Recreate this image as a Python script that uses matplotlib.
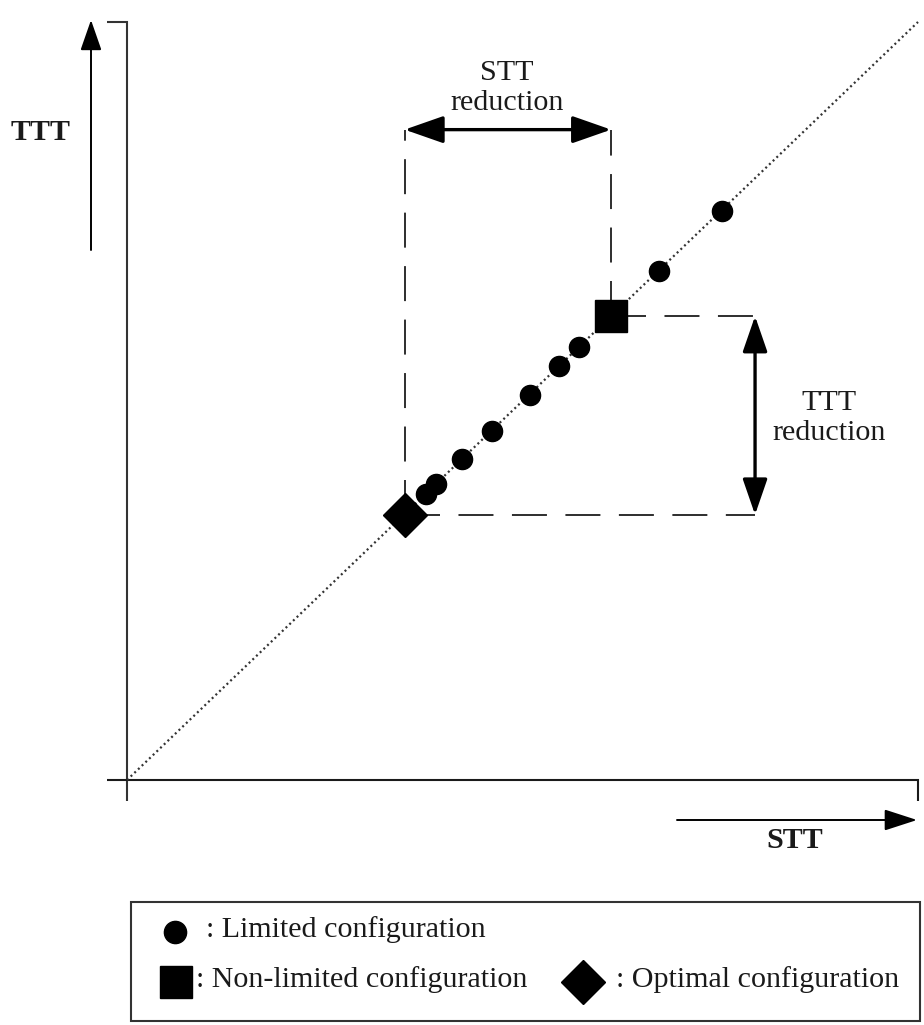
import matplotlib
matplotlib.use("Agg")
import matplotlib.pyplot as plt
from matplotlib.patches import Rectangle

# ---------------- data ----------------
limited_stt = [37.8, 39.1, 42.4, 46.2, 50.9, 54.6, 57.1, 67.3, 75.2]
limited_ttt = [37.7, 39.1, 42.3, 46.1, 50.8, 54.6, 57.1, 67.2, 75.1]
nonlimited_stt = [61.2]
nonlimited_ttt = [61.2]
optimal_stt = [35.1]
optimal_ttt = [35.0]
diag_stt = [0, 100]
diag_ttt = [0, 100]
axis_max = 100
stt_arrow_level = 85.8     # TTT level of the "STT reduction" arrow
ttt_arrow_level = 79.4     # STT position of the "TTT reduction" arrow

axis_label_x = "STT"
axis_label_y = "TTT"
stt_red_label = "STT\nreduction"
ttt_red_label = "TTT\nreduction"
legend_labels = [": Limited configuration",
                 ": Non-limited configuration",
                 ": Optimal configuration"]

# ---------------- layout ----------------
W, H = 924, 1025
PX_X0, PX_Y0 = 127, 780          # pixel position of origin
SX, SY = 7.91, 7.58              # pixels per unit


def px(x, y):
    """pixel position -> data coordinates (layout helper)"""
    return (x - PX_X0) / SX, (PX_Y0 - y) / SY


plt.rcParams['font.family'] = ['Liberation Serif', 'DejaVu Serif']
fig = plt.figure(figsize=(W / 100, H / 100), dpi=100)
ax = fig.add_axes([0, 0, 1, 1])
ax.set_xlim(px(0, 0)[0], px(W, 0)[0])
ax.set_ylim(px(0, H)[1], px(0, 0)[1])
ax.axis('off')

FS = 21.6
axc = '#333333'
txtc = '#1a1a1a'

# axes frame lines
x_lo, _ = px(107, 0)
_, y_lo = px(0, 801)
ax.plot([x_lo, 0, 0], [axis_max, axis_max, y_lo], color=axc, lw=1.5,
        solid_capstyle='butt', solid_joinstyle='miter')
ax.plot([x_lo, axis_max, axis_max], [0, 0, y_lo], color='#1a1a1a', lw=1.5,
        solid_capstyle='butt', solid_joinstyle='miter')

# axis direction arrows
ya_x, ya_y0 = px(91, 250)
_, ya_y1 = px(0, 20)
ax.annotate('', xy=(ya_x, ya_y1), xytext=(ya_x, ya_y0),
            arrowprops=dict(arrowstyle='-|>,head_length=1.35,head_width=0.47',
                            mutation_scale=14, color='black', lw=1.4,
                            shrinkA=0, shrinkB=0))
xa_x0, xa_y = px(677, 820)
xa_x1, _ = px(917, 0)
ax.annotate('', xy=(xa_x1, xa_y), xytext=(xa_x0, xa_y),
            arrowprops=dict(arrowstyle='-|>,head_length=1.45,head_width=0.47',
                            mutation_scale=14, color='black', lw=1.4,
                            shrinkA=0, shrinkB=0))
ax.text(*px(41, 133), axis_label_y, fontsize=FS, fontweight='bold',
        ha='center', va='center', color=txtc)
ax.text(*px(795, 840), axis_label_x, fontsize=FS, fontweight='bold',
        ha='center', va='center', color=txtc)

# diagonal dotted line
ax.plot(diag_stt, diag_ttt, color='#333', lw=1.6, ls=(0, (0.9, 1.4)), zorder=2)

# dashed guide lines
dc = '#2e2e2e'
dls = (0, (18, 9.5))
dlw = 1.4
ax.plot([optimal_stt[0], optimal_stt[0]], [optimal_ttt[0], stt_arrow_level],
        color=dc, lw=dlw, ls=dls, zorder=1)
ax.plot([nonlimited_stt[0], nonlimited_stt[0]], [nonlimited_ttt[0], stt_arrow_level],
        color=dc, lw=dlw, ls=dls, zorder=1)
ax.plot([nonlimited_stt[0], ttt_arrow_level], [nonlimited_ttt[0], nonlimited_ttt[0]],
        color=dc, lw=dlw, ls=dls, zorder=1)
ax.plot([optimal_stt[0], ttt_arrow_level], [optimal_ttt[0], optimal_ttt[0]],
        color=dc, lw=dlw, ls=dls, zorder=1)

# reduction arrows
ax.annotate('', xy=(nonlimited_stt[0], stt_arrow_level),
            xytext=(optimal_stt[0], stt_arrow_level),
            arrowprops=dict(arrowstyle='<|-|>,head_length=1.2,head_width=0.42',
                            mutation_scale=20, color='black', lw=2.4,
                            shrinkA=0, shrinkB=0))
ax.annotate('', xy=(ttt_arrow_level, optimal_ttt[0]),
            xytext=(ttt_arrow_level, nonlimited_ttt[0]),
            arrowprops=dict(arrowstyle='<|-|>,head_length=1.1,head_width=0.38',
                            mutation_scale=20, color='black', lw=2.4,
                            shrinkA=0, shrinkB=0))
ax.text(*px(507, 88), stt_red_label, fontsize=FS, ha='center', va='center',
        linespacing=1.25, color=txtc)
ax.text(*px(829, 418), ttt_red_label, fontsize=FS, ha='center', va='center',
        linespacing=1.25, color=txtc)

# markers
ax.plot(limited_stt, limited_ttt, 'o', color='black', ms=14.5, zorder=4)
ax.plot(nonlimited_stt, nonlimited_ttt, 's', color='black', ms=23, zorder=4)
ax.plot(optimal_stt, optimal_ttt, 'D', color='black', ms=22, zorder=4)

# legend box (drawn manually)
lx0, ly0 = px(131, 1021)
lx1, ly1 = px(920, 902)
ax.add_patch(Rectangle((lx0, ly0), lx1 - lx0, ly1 - ly0, fill=False,
                       edgecolor='#333', lw=1.5))
ax.plot(*px(175, 932), 'o', color='black', ms=16)
ax.plot(*px(176, 982), 's', color='black', ms=22.5)
ax.plot(*px(583, 982), 'D', color='black', ms=22)
ax.text(*px(206, 930), legend_labels[0], fontsize=FS, ha='left', va='center',
        color=txtc)
ax.text(*px(196, 980), legend_labels[1], fontsize=FS, ha='left', va='center',
        color=txtc)
ax.text(*px(616, 980), legend_labels[2], fontsize=FS, ha='left', va='center',
        color=txtc)

fig.savefig('out.png', dpi=100)
